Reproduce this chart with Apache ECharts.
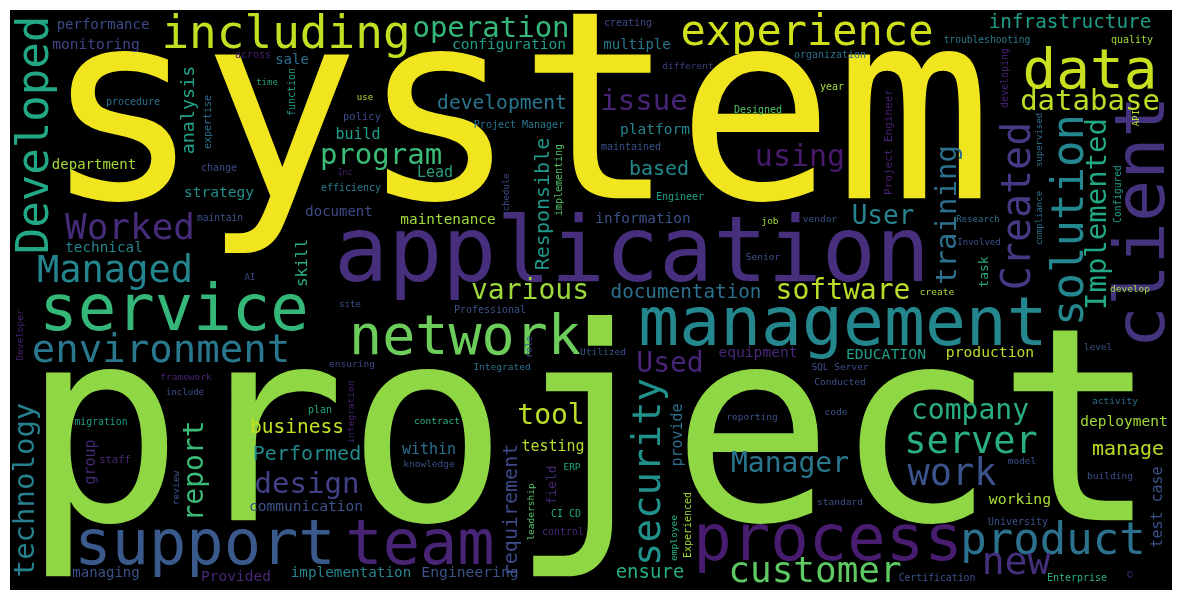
<!DOCTYPE html>
<html>
<head>
<meta charset="utf-8">
<title>Resume word cloud</title>
<script src="https://cdn.jsdelivr.net/npm/echarts@6/dist/echarts.min.js"></script>
<style>
    html, body { margin: 0; padding: 0; background: #fff; }
    #main { width: 1182px; height: 601px; }
</style>
</head>
<body>
<div id="main"></div>
<script>
// words of the cloud, biggest first
var words = ['system', 'project', 'application', 'client', 'management', 'service', 'process', 'support', 'team', 'data',
    'network', 'product', 'solution', 'Developed', 'experience', 'including', 'Created', 'new', 'environment', 'security',
    'Managed', 'work', 'server', 'Worked', 'customer', 'database', 'program', 'issue', 'using', 'training',
    'Implemented', 'operation', 'software', 'technology', 'design', 'various', 'Manager', 'User', 'company', 'report',
    'tool', 'Used', 'requirement', 'Responsible', 'business', 'Performed', 'manage', 'based', 'development', 'documentation',
    'infrastructure', 'ensure', 'analysis', 'provide', 'skill', 'build', 'Lead', 'within', 'testing', 'test case',
    'group', 'production', 'EDUCATION', 'working', 'Engineering', 'equipment', 'configuration', 'communication', 'strategy', 'deployment',
    'platform', 'Provided', 'information', 'maintenance', 'implementation', 'technical', 'performance', 'monitoring', 'department', 'multiple',
    'managing', 'document', 'sale', 'field', 'task', 'staff', 'policy', 'Project Manager', 'Project Engineer', 'efficiency',
    'creating', 'organization', 'different', 'year', 'Designed', 'maintained', 'Engineer', 'troubleshooting', 'quality', 'developing',
    'API', 'Configured', 'supervised', 'compliance', 'Research', 'Involved', 'create', 'develop', 'level', 'activity',
    'maintain', 'AI', 'Developer', 'framework', 'include', 'site', 'Professional', 'role', 'ensuring', 'Integrated',
    'job', 'vendor', 'Senior', 'Utilized', 'SQL Server', 'Conducted', 'reporting', 'code', 'standard', 'employee',
    'Experienced', 'plan', 'integration', 'contract', 'knowledge', 'ERP', 'leadership', 'CI CD', 'control', 'migration',
    'review', 'model', 'building', 'University', 'Certification', 'Enterprise', '©', 'across', 'time', 'function',
    'procedure', 'expertise', 'change', 'use', 'Inc', 'schedule', 'implementing'];

// relative weight of each word (read from glyph height)
var weights = [263, 270, 90, 70, 68, 64, 64, 62, 62, 56,
    55, 44, 44, 44, 42, 46, 40, 38, 39, 39,
    37, 37, 37, 36, 36, 29, 29, 29, 30, 29,
    29, 29, 28, 29, 29, 28, 28, 26, 28, 28,
    28, 28, 20, 20, 19.5, 20, 20, 20, 19.6, 19.3,
    19.3, 19, 18.4, 15, 16, 15, 15, 15, 15, 15,
    15, 14.7, 14.8, 14.8, 14.7, 14.6, 14.6, 14.6, 14.5, 14.5,
    14.5, 14.5, 14.4, 14.4, 14.3, 14.3, 14, 14.5, 14, 14,
    14, 14, 14, 13, 13, 10.5, 10.5, 10, 11, 10,
    10, 10, 9.5, 10, 10, 10, 10, 9.6, 10, 10,
    9, 9.6, 9, 9, 9, 9, 9.5, 9.5, 9.5, 9.5,
    9.6, 9, 9.5, 9.5, 9, 9, 10, 9, 9.5, 9.5,
    9.5, 9.5, 9.5, 9.5, 9.5, 9.5, 9.5, 9.5, 9.5, 9.5,
    10, 10, 9.5, 9.5, 9.5, 9.5, 9.5, 10, 10, 9.8,
    9.5, 9.5, 9.5, 10, 9.8, 10, 10, 10, 9, 10,
    10, 10, 10, 9, 8, 9, 10];

// where each word sits in the cloud (x, y in cloud units) and whether it is turned
var posX = [518, 590, 632, 1146, 843, 174, 828, 205, 420, 1090,
    465, 1053, 1072, 37, 807, 286, 1020, 1016, 161, 650,
    115, 952, 971, 130, 815, 1090, 381, 644, 800, 948,
    1098, 491, 843, 26, 307, 530, 790, 883, 970, 196,
    551, 670, 512, 544, 297, 307, 1128, 659, 502, 686,
    1070, 650, 189, 678, 303, 358, 435, 429, 553, 1158,
    91, 990, 886, 1020, 470, 758, 509, 306, 219, 1124,
    655, 236, 643, 448, 351, 104, 103, 96, 94, 637,
    106, 339, 292, 553, 985, 115, 362, 519, 889, 351,
    628, 830, 688, 832, 758, 631, 680, 987, 1132, 1005,
    1137, 1118, 1040, 1040, 978, 979, 937, 1130, 1098, 1115,
    220, 250, 21, 186, 185, 350, 490, 530, 352, 502,
    770, 820, 763, 603, 840, 840, 752, 836, 840, 675,
    688, 320, 352, 437, 429, 572, 532, 566, 563, 101,
    177, 1022, 1110, 1018, 937, 1077, 1130, 253, 267, 292,
    133, 208, 219, 365, 345, 507, 559];
var posY = [130, 450, 258, 222, 327, 313, 543, 548, 548, 73,
    340, 543, 220, 135, 34, 36, 206, 564, 352, 472,
    272, 475, 443, 230, 573, 102, 156, 102, 158, 215,
    214, 29, 292, 490, 485, 292, 465, 217, 412, 471,
    417, 365, 510, 204, 428, 455, 450, 170, 104, 293,
    23, 573, 110, 435, 263, 135, 173, 450, 447, 507,
    462, 353, 355, 500, 573, 353, 45, 507, 193, 422,
    130, 577, 219, 220, 573, 248, 25, 45, 165, 45,
    573, 212, 60, 485, 272, 460, 117, 125, 142, 188,
    23, 55, 67, 87, 110, 147, 197, 40, 40, 78,
    118, 194, 140, 218, 220, 243, 293, 290, 348, 402,
    218, 278, 335, 378, 393, 305, 310, 347, 365, 368,
    222, 220, 258, 353, 368, 383, 418, 413, 503, 538,
    525, 410, 412, 422, 465, 468, 512, 514, 532, 422,
    488, 462, 477, 522, 578, 578, 575, 55, 83, 92,
    102, 122, 168, 98, 173, 195, 180];
var turned = [0, 0, 0, 1, 0, 0, 0, 0, 0, 0,
    0, 0, 1, 1, 0, 0, 1, 0, 0, 1,
    0, 0, 0, 0, 0, 0, 0, 0, 0, 1,
    1, 0, 0, 1, 0, 0, 0, 0, 0, 1,
    0, 0, 1, 1, 0, 0, 0, 0, 0, 0,
    0, 0, 1, 1, 1, 0, 0, 0, 0, 1,
    1, 0, 0, 0, 0, 0, 0, 0, 0, 0,
    0, 0, 0, 0, 0, 0, 0, 0, 0, 0,
    0, 0, 0, 1, 1, 0, 0, 0, 1, 0,
    0, 0, 0, 0, 0, 0, 0, 0, 0, 1,
    1, 1, 1, 1, 0, 0, 0, 0, 0, 0,
    0, 0, 1, 0, 0, 0, 0, 1, 0, 0,
    0, 0, 0, 0, 0, 0, 0, 0, 0, 1,
    1, 0, 1, 0, 0, 0, 1, 0, 0, 0,
    1, 0, 0, 0, 0, 0, 0, 0, 0, 1,
    0, 1, 0, 0, 0, 1, 1];

// viridis colours picked for each word
var colors = ['#f0e51e', '#8fd744', '#472f7d', '#46337e', '#24878e', '#35b779', '#481d6f', '#3b5a8c', '#482475', '#c8e020',
    '#6ccd5a', '#2c728e', '#24868e', '#22a884', '#d0e11c', '#c2df23', '#443a83', '#46307e', '#2a788e', '#21918c',
    '#25858e', '#3b528b', '#2ab07f', '#472c7a', '#5ec962', '#bade28', '#3bbb75', '#482475', '#481a6c', '#2d708e',
    '#22a884', '#35b779', '#b8de29', '#26818e', '#424086', '#9dd93b', '#2a768e', '#25848e', '#29af7f', '#3aba76',
    '#bade28', '#482576', '#3e4a89', '#1f988b', '#c5e021', '#238a8d', '#bade28', '#23898e', '#2a768e', '#2d708e',
    '#1f9e89', '#27ad81', '#1fa187', '#2d708e', '#2ab07f', '#1f9e89', '#2a9d7c', '#2d708e', '#b0dd2f', '#3b528b',
    '#482878', '#b8de29', '#1f9e89', '#a8db34', '#3b528b', '#482878', '#1f9e89', '#3b528b', '#21918c', '#a0da39',
    '#25858e', '#482878', '#3b528b', '#a0da39', '#25858e', '#25858e', '#3e4c8a', '#414487', '#a5db36', '#2a788e',
    '#3b528b', '#3e4a89', '#2d708e', '#482878', '#22a884', '#482878', '#3e4a89', '#2a788e', '#482173', '#287d8e',
    '#3e4a89', '#2d708e', '#3b3f7e', '#a0da39', '#52c569', '#3b528b', '#1f9e89', '#2a788e', '#a5db36', '#482173',
    '#b5de2b', '#1f9e89', '#2d708e', '#2d708e', '#2d708e', '#3b528b', '#a5db36', '#a0da39', '#3b528b', '#2d708e',
    '#3b528b', '#3e4a89', '#482173', '#482173', '#3b528b', '#3b528b', '#3b528b', '#3b528b', '#3e4a89', '#2d708e',
    '#a0da39', '#3b528b', '#3b528b', '#3b528b', '#3b528b', '#3b528b', '#3b528b', '#3b528b', '#3b528b', '#2ab07f',
    '#a0da39', '#22a884', '#482173', '#2ab07f', '#3b528b', '#22a884', '#52c569', '#22a884', '#482878', '#1f9e89',
    '#3b528b', '#3b528b', '#3b528b', '#3b528b', '#3b528b', '#2ab07f', '#482878', '#482173', '#2a9d7c', '#1f9e89',
    '#2d708e', '#2d708e', '#3e4a89', '#b5de2b', '#482173', '#3e4a89', '#52c569'];

var fontScale = 1; // weight -> pixel size

var myChart = echarts.init(document.getElementById('main'));

var points = words.map(function (w, i) {
    return {
        name: w,
        value: [posX[i], posY[i]],
        label: {
            fontSize: weights[i] * fontScale,
            color: colors[i],
            rotate: turned[i] ? 90 : 0
        }
    };
});

var option = {
    backgroundColor: '#ffffff',
    animation: false,
    grid: {
        left: 10,
        right: 10,
        top: 10,
        bottom: 11,
        show: true,
        backgroundColor: '#000000',
        borderWidth: 0
    },
    xAxis: {
        type: 'value',
        min: 10,
        max: 1172,
        show: false
    },
    yAxis: {
        type: 'value',
        min: 10,
        max: 590,
        inverse: true,
        show: false
    },
    series: [{
        type: 'scatter',
        symbolSize: 0,
        itemStyle: { opacity: 1 },
        data: points,
        label: {
            show: true,
            position: 'inside',
            align: 'center',
            verticalAlign: 'middle',
            fontFamily: 'DejaVu Sans Mono',
            formatter: '{b}'
        },
        emphasis: { disabled: true }
    }]
};

myChart.setOption(option);
</script>
</body>
</html>
